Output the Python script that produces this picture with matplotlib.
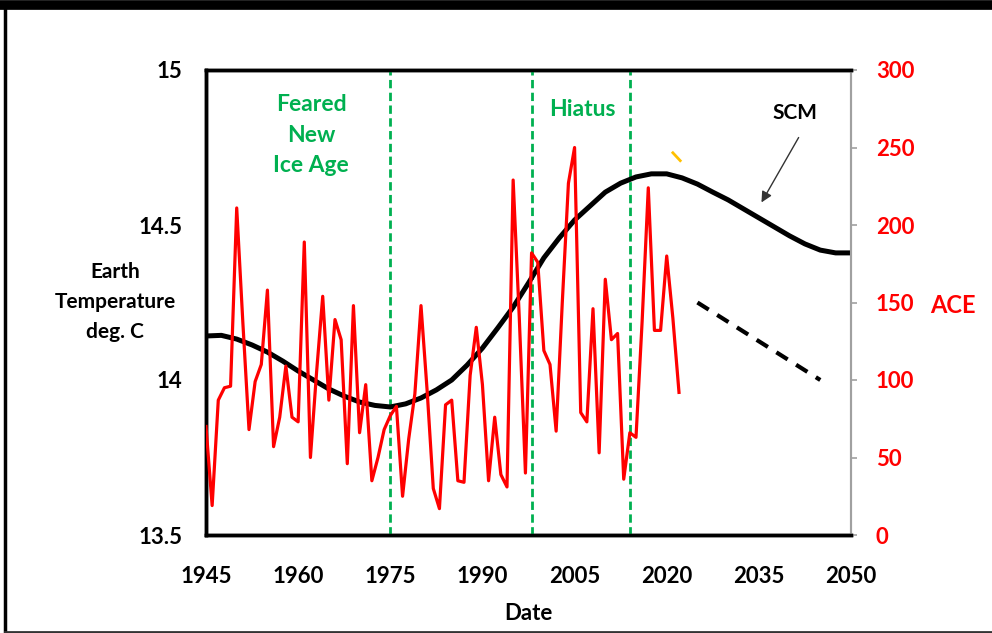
import numpy as np
import matplotlib
matplotlib.use('Agg')
import matplotlib.pyplot as plt
from matplotlib.lines import Line2D

plt.rcParams['font.family'] = ['Lato', 'DejaVu Sans']
plt.rcParams['font.weight'] = 'bold'
plt.rcParams['axes.labelweight'] = 'bold'

# Atlantic accumulated cyclone energy, one value per season
ace_years = np.arange(1945, 2023)
ace = [70, 19, 87, 95, 96, 211, 137, 68, 99, 110,
       158, 57, 76, 109, 76, 73, 189, 50, 105, 154,
       87, 139, 126, 46, 148, 66, 97, 35, 50, 68,
       77, 83, 25, 62, 91, 148, 93, 30, 17, 84,
       87, 35, 34, 103, 134, 97, 35, 76, 39, 31,
       229, 140, 40, 182, 176, 119, 110, 67, 150, 227,
       250, 79, 73, 146, 53, 165, 126, 130, 36, 66,
       63, 138, 224, 132, 132, 180, 140, 92]

# solar cycle model temperature (deg C)
scm_years = [1945, 1947.5, 1950, 1952.5, 1955, 1957.5, 1960, 1962.5, 1965, 1967.5,
             1970, 1972.5, 1975, 1977.5, 1980, 1982.5, 1985, 1987.5, 1990, 1992.5,
             1995, 1997.5, 2000, 2002.5, 2005, 2007.5, 2010, 2012.5, 2015, 2017.5,
             2020, 2022.5, 2025, 2027.5, 2030, 2032.5, 2035, 2037.5, 2040, 2042.5,
             2045, 2047.5, 2050]
scm_temp = [14.142, 14.144, 14.132, 14.113, 14.090, 14.061, 14.029, 14.000, 13.971, 13.948,
            13.929, 13.918, 13.913, 13.923, 13.942, 13.968, 14.000, 14.048, 14.103, 14.168,
            14.235, 14.313, 14.394, 14.458, 14.516, 14.561, 14.606, 14.635, 14.655, 14.665,
            14.665, 14.652, 14.632, 14.606, 14.581, 14.552, 14.523, 14.494, 14.465, 14.439,
            14.419, 14.410, 14.410]

# projected ACE decline
proj_years = [2025, 2045]
proj_ace = [150, 100]

# era boundaries
era_years = [1945, 1975, 1998, 2014]

xticks = [1945, 1960, 1975, 1990, 2005, 2020, 2035, 2050]
temp_ticks = [13.5, 14, 14.5, 15]
temp_labels = ['13.5', '14', '14.5', '15']
ace_ticks = [0, 50, 100, 150, 200, 250, 300]

green = '#00B050'

fig = plt.figure(figsize=(9.92, 6.33), dpi=100)
ax = fig.add_axes([206/992, 1 - 535/633, 645/992, 465/633])
ax2 = ax.twinx()

for yr in era_years:
    ax.axvline(yr, color=green, lw=2, ls=(0, (3, 1.6)), zorder=3, clip_on=False)
ax.plot(scm_years, scm_temp, color='black', lw=3.6, zorder=4)

ax2.plot(ace_years, ace, color='#FF0000', lw=2.3, zorder=5)
ax2.plot(proj_years, proj_ace, color='black', lw=3, ls=(0, (3.2, 2.4)))
ax2.plot([2021.0, 2022.2], [246.6, 241.5], color='#FFC000', lw=2)

ax.set_xlim(1945, 2050)
ax.set_ylim(13.5, 15)
ax2.set_ylim(0, 300)

ax.set_xticks(xticks)
ax.set_xticklabels([str(x) for x in xticks], fontsize=16, fontweight='bold')
ax.set_yticks(temp_ticks)
ax.set_yticklabels(temp_labels, fontsize=16, fontweight='bold')
ax.tick_params(axis='both', length=0)
ax.tick_params(axis='x', pad=22)
ax.tick_params(axis='y', pad=17)

ax2.set_yticks(ace_ticks)
ax2.set_yticklabels([str(v) for v in ace_ticks], fontsize=16, fontweight='bold', color='#FF0000')
ax2.tick_params(axis='y', length=4, color='#A0A0A0', width=1.2, pad=14)

for a in (ax, ax2):
    a.spines['top'].set_linewidth(2.5)
    a.spines['bottom'].set_linewidth(2.5)
    a.spines['left'].set_linewidth(2.5)
    a.spines['right'].set_color('#A0A0A0')
    a.spines['right'].set_linewidth(1.5)

ax.set_xlabel('Date', fontsize=16, fontweight='bold', labelpad=12)
fig.text(115/992, 1 - 302/633, 'Earth\nTemperature\ndeg. C', ha='center', va='center',
         fontsize=15, fontweight='bold', linespacing=1.6)
fig.text(953/992, 1 - 305/633, 'ACE', ha='center', va='center', fontsize=17,
         fontweight='bold', color='#FF0000')

ax.text(0.163, 0.86, 'Feared\nNew\nIce Age', transform=ax.transAxes, ha='center', va='center',
        fontsize=16.5, fontweight='bold', color=green, linespacing=1.56)
ax.text(0.584, 0.914, 'Hiatus', transform=ax.transAxes, ha='center', va='center',
        fontsize=16.5, fontweight='bold', color=green)

ax2.text(2040.9, 272, 'SCM', ha='center', va='center', fontsize=15, fontweight='bold')
ax2.annotate('', xy=(2035.2, 213), xytext=(2041.7, 258),
             arrowprops=dict(arrowstyle='-|>', color='#333333', lw=1, mutation_scale=16))

# outer frame
fig.add_artist(Line2D([3/992, 1], [1 - 5/633, 1 - 5/633], color='black', lw=7))
fig.add_artist(Line2D([4.5/992, 4.5/992], [1 - 5/633, 1.5/633], color='black', lw=2.5))
fig.add_artist(Line2D([4.5/992, 1], [1.5/633, 1.5/633], color='#333333', lw=2))

fig.savefig('out.png', dpi=100)
